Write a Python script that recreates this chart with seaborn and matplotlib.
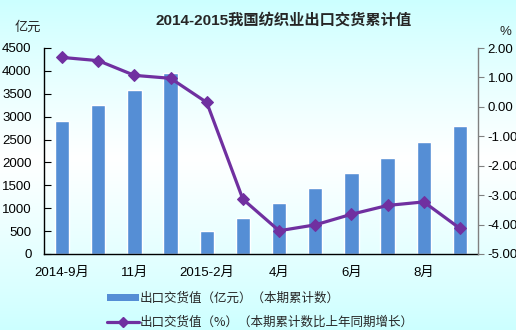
import numpy as np
import matplotlib
matplotlib.use("Agg")
import matplotlib.pyplot as plt
import seaborn as sns
from matplotlib.lines import Line2D
from matplotlib.patches import Patch

# Monthly cumulative export delivery values of the textile industry
months = ["2014-9", "2014-10", "2014-11", "2014-12", "2015-2", "2015-3",
          "2015-4", "2015-5", "2015-6", "2015-7", "2015-8", "2015-9"]
tick_labels = ["2014-9月", "", "11月", "", "2015-2月", "", "4月", "", "6月", "", "8月", ""]
value_yi = [2900, 3250, 3580, 3950, 510, 790, 1120, 1440, 1770, 2100, 2445, 2795]
growth_pct = [1.68, 1.57, 1.07, 0.97, 0.15, -3.14, -4.21, -4.01, -3.65, -3.35, -3.23, -4.13]

sns.set_theme(style="white")
plt.rcParams["font.family"] = ["Liberation Sans", "Noto Sans CJK SC", "DejaVu Sans"]

W, H = 516, 330
fig = plt.figure(figsize=(W / 100, H / 100), dpi=100)

# vertical gradient background: cyan at top and bottom, white in the middle
bg = fig.add_axes([0, 0, 1, 1], zorder=-10)
c_top = np.array([0.80, 1.0, 1.0])
c_mid = np.array([1.0, 1.0, 1.0])
t = np.linspace(0, 1, 330)[:, None]
mid = 0.48
w = np.where(t < mid, t / mid, (1 - t) / (1 - mid))
w = np.clip(w, 0, 1) ** 0.9
grad = c_top[None, :] * (1 - w) + c_mid[None, :] * w
grad = np.repeat(grad[:, None, :], 2, axis=1)
bg.imshow(grad, aspect="auto", extent=[0, 1, 0, 1], origin="upper")
bg.axis("off")

left, right, top, bottom = 44, 478, 48, 254
ax = fig.add_axes([left / W, (H - bottom) / H, (right - left) / W, (bottom - top) / H])
ax.patch.set_alpha(0)

bar_color = "#558ED5"
line_color = "#7030A0"

sns.barplot(x=months, y=value_yi, color=bar_color, width=0.4, saturation=1,
            ax=ax, zorder=2)
ax.set_xlim(-0.5, len(months) - 0.5)
ax.set_ylim(0, 4500)
ax.set_yticks(np.arange(0, 4501, 500))
ax.set_xticks(range(len(months)))
ax.set_xticklabels(tick_labels)
ax.set_xticks(np.arange(-0.5, len(months), 1), minor=True)
ax.set_xlabel("")
ax.set_ylabel("")
ax.tick_params(axis="x", which="major", length=0, pad=9, labelsize=9.5, colors="black")
ax.tick_params(axis="x", which="minor", length=5, direction="in", width=0.8, color="black")
ax.tick_params(axis="y", length=5, direction="in", width=0.8, pad=9, labelsize=9.5,
               colors="black", left=True)
for s in ["top", "right"]:
    ax.spines[s].set_visible(False)
for s in ["left", "bottom"]:
    ax.spines[s].set_color("black")
    ax.spines[s].set_linewidth(1.0)

ax2 = ax.twinx()
ax2.patch.set_alpha(0)
sns.lineplot(x=np.arange(len(months)), y=growth_pct, ax=ax2, color=line_color,
             linewidth=2.3, marker="D", markersize=6.5, markeredgecolor=line_color,
             zorder=3)
ax2.set_ylim(-5, 2)
ax2.set_yticks(np.arange(-5, 2.01, 1))
ax2.set_yticklabels([f"{v:.2f}" for v in np.arange(-5, 2.01, 1)])
ax2.set_xlim(-0.5, len(months) - 0.5)
ax2.set_ylabel("")
ax2.tick_params(axis="y", length=4, direction="out", width=0.8, pad=3, labelsize=9.5,
                colors="black", right=True, color="#808080")
for s in ["top", "left", "bottom"]:
    ax2.spines[s].set_visible(False)
ax2.spines["right"].set_color("#808080")
ax2.spines["right"].set_linewidth(1.0)
ax2.grid(False)
ax.grid(False)

fig.text(284 / W, 1 - 20 / H, "2014-2015我国纺织业出口交货累计值", ha="center", va="center",
         fontsize=11, fontweight="bold", family=["Liberation Sans", "Noto Sans CJK SC"])
fig.text(28 / W, 1 - 27 / H, "亿元", ha="center", va="center", fontsize=9.5,
         family=["Noto Sans CJK SC"])
fig.text(505 / W, 1 - 32 / H, "%", ha="center", va="center", fontsize=9.5)

handles = [
    Patch(facecolor=bar_color, edgecolor="none"),
    Line2D([0], [0], color=line_color, linewidth=2.3, marker="D", markersize=5),
]
labels = ["出口交货值（亿元）（本期累计数）", "出口交货值（%）（本期累计数比上年同期增长）"]
fig.legend(handles, labels, loc="upper left", bbox_to_anchor=(101 / W, 1 - 286 / H),
           frameon=False, handlelength=2.5, handleheight=0.45,
           handletextpad=0.1, labelspacing=0.85, borderpad=0,
           prop={"family": ["Noto Sans CJK SC", "DejaVu Sans"], "size": 9})

fig.savefig("out.png", dpi=100)
